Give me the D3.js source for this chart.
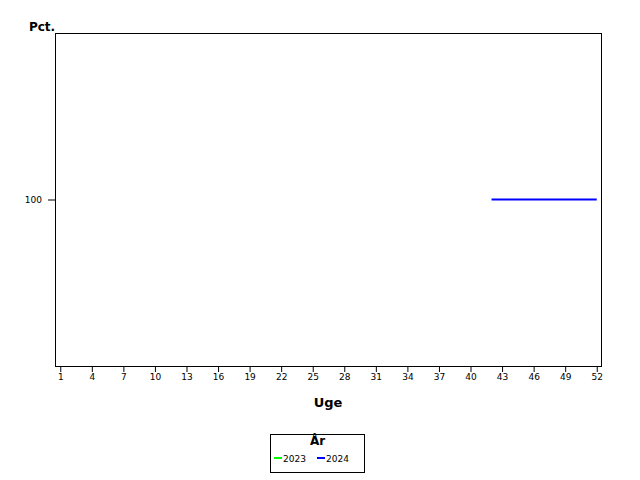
<!DOCTYPE html>
<html>
<head>
<meta charset="utf-8">
<script src="https://cdn.jsdelivr.net/npm/d3@7"></script>
<style>
  body { margin: 0; background: #fff; }
  svg text { font-family: "DejaVu Sans", sans-serif; }
</style>
</head>
<body>
<div id="chart"></div>
<script>
// Données
const uger = d3.range(1, 53);
const ugeTicks = [1, 4, 7, 10, 13, 16, 19, 22, 25, 28, 31, 34, 37, 40, 43, 46, 49, 52];
const pctTicks = [100];
const aar = ['2023', '2024'];
const farver = ['#00ff00', '#0000ff'];
const uger2023 = [];
const pct2023 = [];
const uger2024 = [42, 43, 44, 45, 46, 47, 48, 49, 50, 51, 52];
const pct2024 = [100, 100, 100, 100, 100, 100, 100, 100, 100, 100, 100];

const width = 640, height = 480;
const margin = { top: 33, right: 38, bottom: 114, left: 55 };

const svg = d3.select('#chart').append('svg')
    .attr('width', width)
    .attr('height', height);

const x = d3.scaleLinear()
    .domain([0.5, 52.5])
    .range([margin.left, width - margin.right]);

const y = d3.scaleLinear()
    .domain([90, 110])
    .range([height - margin.bottom, margin.top]);

// Cadre
svg.append('rect')
    .attr('x', margin.left + 0.5)
    .attr('y', margin.top + 0.5)
    .attr('width', width - margin.left - margin.right - 1)
    .attr('height', height - margin.top - margin.bottom)
    .attr('fill', 'none')
    .attr('stroke', '#000');

// Axes
const xAxis = svg.append('g')
    .attr('transform', `translate(0,${height - margin.bottom})`)
    .call(d3.axisBottom(x).tickValues(ugeTicks).tickSize(6).tickPadding(2));
xAxis.select('.domain').remove();
xAxis.selectAll('text').style('font-size', '9px').attr('fill', '#000');

const yAxis = svg.append('g')
    .attr('transform', `translate(${margin.left},0)`)
    .call(d3.axisLeft(y).tickValues(pctTicks).tickSize(7).tickPadding(6));
yAxis.select('.domain').remove();
yAxis.selectAll('text').style('font-size', '9px').attr('fill', '#000');

// Titres
svg.append('text')
    .attr('x', 42).attr('y', 31)
    .attr('text-anchor', 'middle')
    .style('font-size', '12px').style('font-weight', 'bold')
    .text('Pct.');

svg.append('text')
    .attr('x', 328).attr('y', 407)
    .attr('text-anchor', 'middle')
    .style('font-size', '13px').style('font-weight', 'bold')
    .text('Uge');

// Lignes
const line = d3.line()
    .x(d => x(d[0]))
    .y(d => y(d[1]));

const series = [d3.zip(uger2023, pct2023), d3.zip(uger2024, pct2024)];
svg.selectAll('path.serie')
    .data(series)
    .enter()
    .append('path')
    .attr('class', 'serie')
    .attr('d', d => d.length ? line(d) : null)
    .attr('fill', 'none')
    .attr('stroke', (d, i) => farver[i])
    .attr('stroke-width', 2);

// Légende
const leg = svg.append('g').attr('transform', 'translate(270.5,434.5)');
leg.append('rect')
    .attr('width', 94).attr('height', 38)
    .attr('fill', '#fff').attr('stroke', '#000');
leg.append('text')
    .attr('x', 47).attr('y', 10)
    .attr('text-anchor', 'middle')
    .style('font-size', '12px').style('font-weight', 'bold')
    .text('År');
const items = leg.selectAll('g.item')
    .data(aar)
    .enter()
    .append('g')
    .attr('class', 'item')
    .attr('transform', (d, i) => `translate(${3.5 + i * 43},23.5)`);
items.append('line')
    .attr('x1', 0).attr('x2', 8)
    .attr('stroke', (d, i) => farver[i])
    .attr('stroke-width', 2);
items.append('text')
    .attr('x', 9).attr('y', 3.5)
    .style('font-size', '9px')
    .text(d => d);
</script>
</body>
</html>
